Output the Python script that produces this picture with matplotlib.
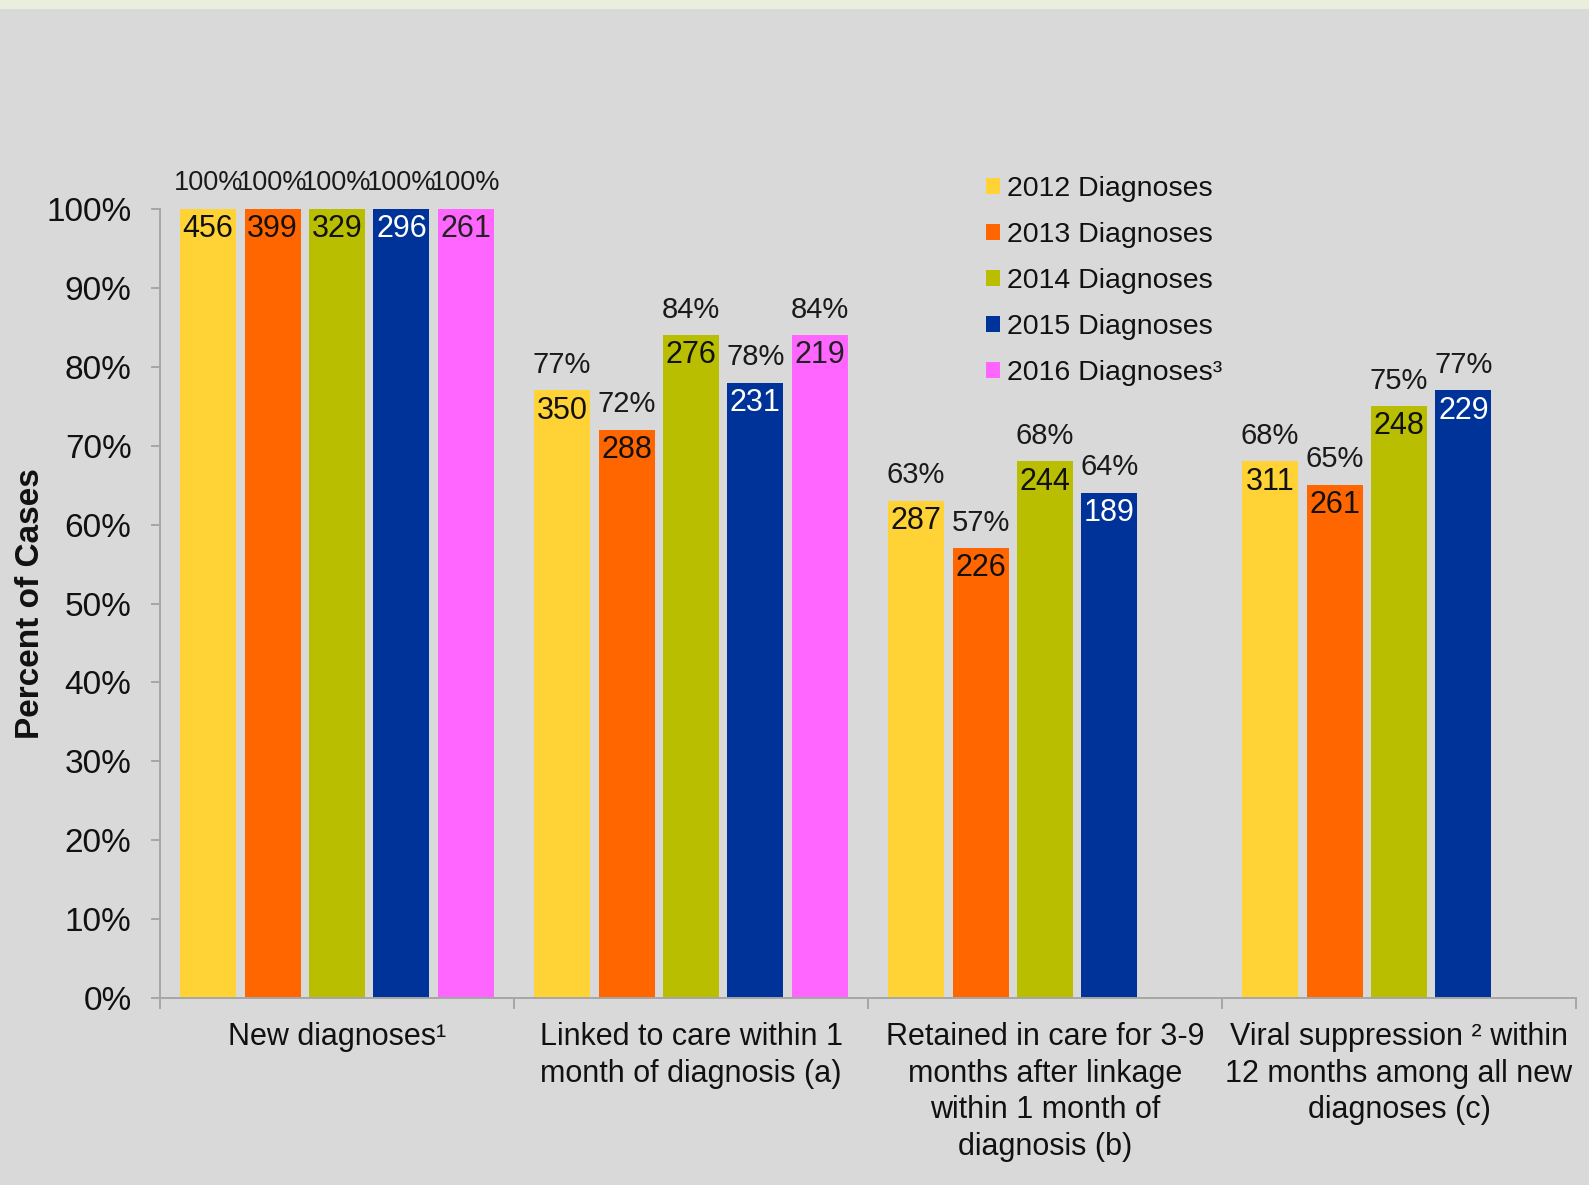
import matplotlib
matplotlib.use("Agg")
import matplotlib.pyplot as plt
from matplotlib import font_manager
from matplotlib.patches import Rectangle
import numpy as np

# ---- data ----
categories = [
    "New diagnoses\u00b9",
    "Linked to care within 1\nmonth of diagnosis (a)",
    "Retained in care for 3-9\nmonths after linkage\nwithin 1 month of\ndiagnosis (b)",
    "Viral suppression \u00b2 within\n12 months among all new\ndiagnoses (c)",
]
series_names = ["2012 Diagnoses", "2013 Diagnoses", "2014 Diagnoses",
                "2015 Diagnoses", "2016 Diagnoses\u00b3"]
pct_2012 = [100, 77, 63, 68]
pct_2013 = [100, 72, 57, 65]
pct_2014 = [100, 84, 68, 75]
pct_2015 = [100, 78, 64, 77]
pct_2016 = [100, 84]
cnt_2012 = [456, 350, 287, 311]
cnt_2013 = [399, 288, 226, 261]
cnt_2014 = [329, 276, 244, 248]
cnt_2015 = [296, 231, 189, 229]
cnt_2016 = [261, 219]
y_ticks = list(range(0, 101, 10))

percents = [pct_2012, pct_2013, pct_2014, pct_2015, pct_2016]
counts = [cnt_2012, cnt_2013, cnt_2014, cnt_2015, cnt_2016]
colors = ["#FFD236", "#FF6600", "#B9BF00", "#00339A", "#FF66FF"]
count_colors = ["#111111", "#111111", "#111111", "#FFFFFF", "#222222"]

available = {f.name for f in font_manager.fontManager.ttflist}
base_font = "Liberation Sans" if "Liberation Sans" in available else "DejaVu Sans"
plt.rcParams["font.family"] = [base_font, "DejaVu Sans"]

W, H = 1589, 1185
bg = "#D9D9D9"
axis_gray = "#A6A6A6"

fig = plt.figure(figsize=(W / 100, H / 100), dpi=100, facecolor=bg)
# thin light band along the top edge
fig.patches.append(Rectangle((0, 1 - 9 / H), 1, 9 / H, transform=fig.transFigure,
                             facecolor="#EAEFDD", edgecolor="none"))

ax = fig.add_axes([160 / W, 1 - 998 / H, 1416 / W, 789 / H])
ax.set_facecolor(bg)
ax.set_xlim(-0.5, len(categories) - 0.5)
ax.set_ylim(0, 100)

slot = 0.182
bar_w = 0.158
handles = []
for i, (pct, cnt) in enumerate(zip(percents, counts)):
    x = np.arange(len(pct)) + (i - 2) * slot
    bars = ax.bar(x, pct, width=bar_w, color=colors[i], label=series_names[i], zorder=2)
    handles.append(bars)
    for j, (xx, v, n) in enumerate(zip(x, pct, cnt)):
        ax.annotate(f"{v}%", xy=(xx, v), xytext=(0, 18.5), textcoords="offset points",
                    ha="center", va="center", fontsize=19.5 if j == 0 else 21,
                    color="#1a1a1a")
        ax.annotate(f"{n}", xy=(xx, v), xytext=(0, -14.5), textcoords="offset points",
                    ha="center", va="center", fontsize=22, color=count_colors[i])

# axes styling
for side in ("top", "right"):
    ax.spines[side].set_visible(False)
for side in ("left", "bottom"):
    ax.spines[side].set_color(axis_gray)
    ax.spines[side].set_linewidth(1.4)

ax.set_yticks(y_ticks)
ax.set_yticklabels([f"{t}%" for t in y_ticks])
ax.tick_params(axis="y", length=6.5, width=1.4, color=axis_gray, labelsize=24,
               pad=14, labelcolor="#111111")

ax.set_xticks(range(len(categories)))
ax.set_xticklabels(categories, fontsize=22, linespacing=1.3, color="#111111")
ax.set_xticks(np.arange(-0.5, len(categories), 1.0), minor=True)
ax.tick_params(axis="x", which="major", length=0, pad=17)
ax.tick_params(axis="x", which="minor", length=8, width=1.4, color=axis_gray)

ax.set_ylabel("Percent of Cases", fontsize=24, fontweight="bold", color="#111111")
ax.yaxis.set_label_coords((31 - 160) / 1416, 0.5)
ax.yaxis.label.set_verticalalignment("center")

leg = ax.legend(handles=handles, loc="upper left",
                bbox_to_anchor=(986 / W, 1 - 176 / H), bbox_transform=fig.transFigure,
                frameon=False, fontsize=20.5, handlelength=0.5, handleheight=0.5,
                handletextpad=0.25, labelspacing=0.7, borderpad=0, borderaxespad=0)
for t in leg.get_texts():
    t.set_color("#111111")

fig.savefig("out.png", dpi=100, facecolor=bg)
